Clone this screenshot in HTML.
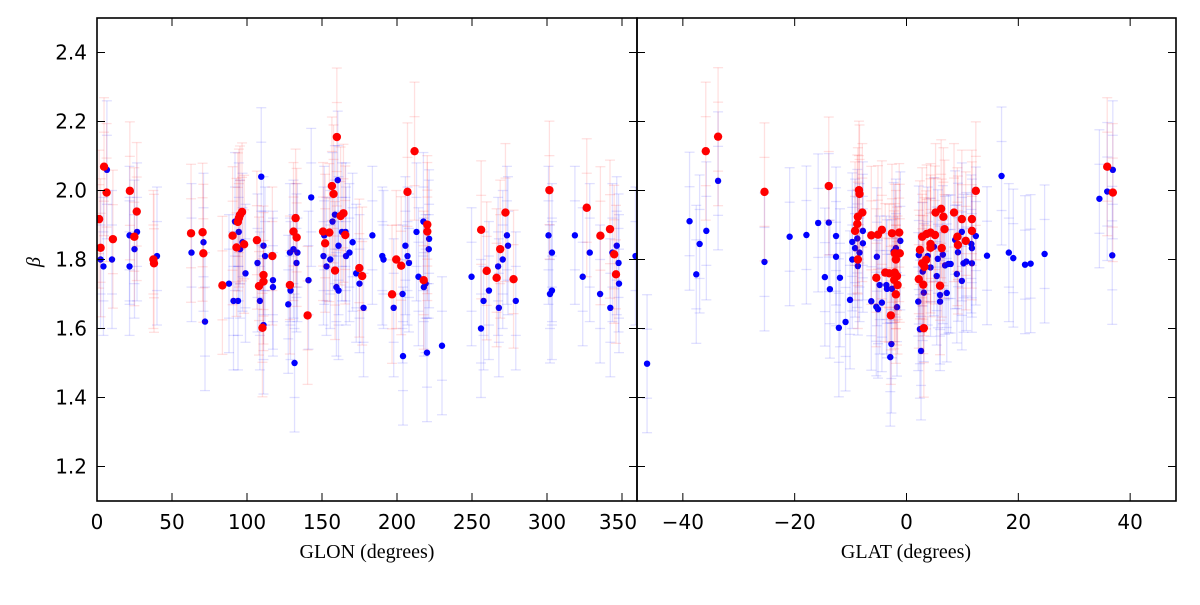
<!DOCTYPE html>
<html><head><meta charset="utf-8"><style>
body{margin:0;background:#fff;}
svg{display:block;}
.tl{font-family:"DejaVu Sans","Liberation Sans",sans-serif;font-size:20px;}
.al{font-family:"Liberation Serif","DejaVu Serif",serif;font-size:20px;}
</style></head><body>
<svg id="chart" width="1200" height="605" viewBox="0 0 1200 605" xmlns="http://www.w3.org/2000/svg"></svg>
<script>
const yTicks=[1.2,1.4,1.6,1.8,2.0,2.2,2.4];
const lonTicks=[0,50,100,150,200,250,300,350];
const latTicks=[-40,-20,0,20,40];
const errBlue=0.2, errRed=0.2;
const lonBlue=[[6.6,2.06],[2.4,1.80],[4.3,1.78],[10,1.80],[21.7,1.78],[21.7,1.87],[25,1.83],[26.7,1.88],[40,1.81],[63,1.82],[71,1.85],[72,1.62],[88,1.73],[91,1.68],[94,1.68],[92,1.91],[94.5,1.88],[97,1.85],[99,1.76],[95.4,1.83],[109.5,2.04],[107,1.79],[108.6,1.68],[111,1.84],[112,1.81],[117.3,1.74],[117.3,1.72],[111,1.61],[127.5,1.67],[129,1.71],[128.6,1.82],[131,1.83],[133.6,1.82],[133,1.79],[131.7,1.50],[141,1.74],[142.8,1.98],[151,1.81],[151.5,1.87],[153,1.78],[155.5,1.80],[157,1.91],[158.6,1.93],[160.5,2.03],[161,1.84],[163.3,1.88],[165.7,1.88],[166,1.81],[168.3,1.82],[170.4,1.85],[159.6,1.72],[161,1.71],[172.8,1.76],[175,1.73],[177.7,1.66],[183.6,1.87],[190.2,1.81],[191,1.80],[197.8,1.66],[204,1.52],[203.7,1.70],[205.6,1.84],[207,1.81],[208,1.79],[213,1.88],[214.3,1.75],[217.9,1.72],[219,1.73],[217.6,1.91],[221.4,1.86],[221.2,1.83],[220,1.53],[230,1.55],[249.7,1.75],[256,1.60],[257.7,1.68],[261.3,1.71],[267.9,1.66],[267.4,1.78],[270.5,1.80],[274,1.84],[273.3,1.87],[279.2,1.68],[301,1.87],[303.3,1.82],[302,1.70],[303.3,1.71],[318.6,1.87],[323.8,1.75],[328.5,1.82],[335.4,1.70],[342.2,1.66],[343.6,1.82],[346.5,1.84],[347.7,1.79],[348,1.73],[359,1.81]];
const lonRed=[[4.7,2.069],[6.4,1.994],[1.4,1.917],[2.4,1.834],[10.6,1.859],[21.9,1.999],[26.5,1.939],[24.9,1.866],[37.6,1.80],[38,1.789],[62.7,1.876],[70.4,1.879],[70.9,1.818],[83.6,1.725],[90.4,1.869],[93,1.835],[93.9,1.909],[94.6,1.92],[95.3,1.929],[96.7,1.938],[98.1,1.844],[106.6,1.856],[108,1.723],[111,1.755],[111,1.736],[110.3,1.602],[116.9,1.81],[128.6,1.726],[132.4,1.92],[131,1.881],[133.1,1.864],[140.4,1.638],[150.7,1.881],[154.9,1.878],[152.1,1.847],[156.6,2.013],[157.7,1.99],[159.9,2.155],[162.4,1.926],[164.3,1.934],[165.5,1.871],[158.7,1.768],[174.9,1.775],[176.8,1.752],[196.7,1.699],[199.5,1.80],[202.8,1.782],[207,1.996],[211.7,2.114],[220.2,1.901],[220.2,1.881],[217.8,1.74],[256.1,1.886],[259.8,1.767],[266.4,1.747],[268.8,1.83],[272.3,1.936],[277.7,1.743],[301.6,2.001],[326.5,1.95],[335.6,1.869],[342,1.888],[344.8,1.815],[346,1.757]];
const latBlue=[[-46.4,1.498],[-38.8,1.911],[-35.8,1.883],[-37,1.845],[-37.6,1.757],[-33.7,2.028],[-25.4,1.793],[-20.9,1.866],[-17.9,1.871],[-15.8,1.906],[-13.9,1.907],[-12.6,1.868],[-12.6,1.808],[-14.6,1.749],[-11.9,1.747],[-13.7,1.714],[-10.1,1.683],[-10.9,1.619],[-12.1,1.602],[-9.7,1.851],[-8.8,1.861],[-7.8,1.847],[-9.2,1.833],[-8.4,1.82],[-9.7,1.80],[-8.7,1.781],[-7.8,1.883],[-5.3,1.808],[-4.8,1.726],[-3.6,1.726],[-3.5,1.715],[-2.6,1.715],[-6.3,1.679],[-5.4,1.663],[-4.4,1.675],[-5.1,1.656],[-2.7,1.555],[-2.9,1.517],[-1.7,1.662],[-1.9,1.833],[-1.1,1.854],[-2.3,1.823],[2.2,1.813],[2.1,1.678],[2.6,1.535],[2.4,1.598],[3.1,1.704],[2.9,1.765],[3.8,1.81],[4.3,1.777],[4.9,1.837],[5.4,1.752],[6.0,1.697],[6.0,1.678],[5.6,1.802],[6.5,1.814],[6.9,1.783],[7.2,1.703],[7.5,1.787],[7.9,1.787],[8.7,1.857],[9.0,1.758],[9.2,1.821],[9.9,1.738],[9.9,1.88],[10.2,1.789],[10.7,1.794],[11.7,1.789],[11.7,1.833],[11.6,1.845],[12.4,1.868],[14.4,1.811],[17.0,2.042],[18.3,1.82],[19.1,1.804],[21.2,1.785],[22.2,1.788],[24.7,1.816],[34.5,1.976],[35.9,1.997],[36.9,2.06],[36.8,1.812]];
const latRed=[[-35.9,2.114],[-33.7,2.156],[-25.4,1.996],[-13.9,2.013],[-8.5,2.001],[-8.4,1.99],[-7.9,1.936],[-8.7,1.924],[-8.8,1.903],[-9.2,1.883],[-8.7,1.80],[-6.3,1.87],[-5.1,1.872],[-4.4,1.886],[-2.6,1.876],[-1.3,1.878],[-2.1,1.818],[-1.2,1.818],[-1.9,1.80],[-5.4,1.747],[-3.8,1.762],[-3.1,1.76],[-2.1,1.762],[-1.7,1.752],[-2.2,1.741],[-1.6,1.726],[-1.9,1.699],[-2.8,1.638],[2.4,1.828],[2.2,1.743],[3.0,1.727],[3.1,1.601],[2.8,1.789],[3.2,1.779],[3.5,1.799],[2.8,1.866],[3.6,1.874],[4.3,1.878],[5.1,1.871],[4.3,1.845],[4.3,1.834],[6.0,1.724],[6.3,1.833],[5.2,1.936],[6.2,1.947],[6.6,1.924],[6.8,1.888],[8.5,1.936],[9.1,1.866],[9.2,1.842],[9.9,1.917],[10.6,1.854],[11.7,1.917],[11.7,1.883],[12.4,1.999],[35.9,2.069],[36.9,1.994]];

const NS="http://www.w3.org/2000/svg";
const svg=document.getElementById('chart');
const T=18,B=501;
const yS=v=>T+(2.5-v)*(B-T)/1.4;
const P1={l:97,r:637,min:0,max:360};
const P2={l:637,r:1176,min:-48.2,max:48.2};
const xS=(p,v)=>p.l+(v-p.min)*(p.r-p.l)/(p.max-p.min);
function mk(tag,attrs,parent){const e=document.createElementNS(NS,tag);for(const k in attrs)e.setAttribute(k,attrs[k]);(parent||svg).appendChild(e);return e;}

function series(p,pts,err,col,r,name,g0){
  const g=mk('g',{},g0);
  
  
  const eg=mk('g',{stroke:col,'stroke-opacity':0.12,'stroke-width':1.3},g);
  pts.forEach(d=>{
    const x=xS(p,d[0]),y0=yS(d[1]-err),y1=yS(d[1]+err),ym=yS(d[1]);
    mk('line',{x1:x,x2:x,y1:y0,y2:y1},eg);
    mk('line',{x1:x-5,x2:x+5,y1:y0,y2:y0},eg);
    mk('line',{x1:x-5,x2:x+5,y1:y1,y2:y1},eg);
    mk('line',{x1:x-5,x2:x+5,y1:(y0+ym)/2,y2:(y0+ym)/2},eg);
    mk('line',{x1:x-5,x2:x+5,y1:(y1+ym)/2,y2:(y1+ym)/2},eg);
  });
  pts.forEach(d=>{
    const c=mk('circle',{cx:xS(p,d[0]),cy:yS(d[1]),r:r,fill:col},g);
    
    
  });
}
const clip=mk('defs',{});
const c1=mk('clipPath',{id:'c1'},clip);mk('rect',{x:97,y:18,width:540,height:483},c1);
const c2=mk('clipPath',{id:'c2'},clip);mk('rect',{x:637,y:18,width:539,height:483},c2);
const g1=mk('g',{'clip-path':'url(#c1)'});
const g2=mk('g',{'clip-path':'url(#c2)'});
series(P1,lonBlue,errBlue,'#0000ff',3.2,'glon-blue-series',g1);
series(P1,lonRed,errRed,'#ff0000',4.2,'glon-red-series',g1);
series(P2,latBlue,errBlue,'#0000ff',3.2,'glat-blue-series',g2);
series(P2,latRed,errRed,'#ff0000',4.2,'glat-red-series',g2);

[P1,P2].forEach((p,i)=>{
  const f=mk('rect',{x:p.l,y:T,width:p.r-p.l,height:B-T,fill:'none',stroke:'#000','stroke-width':1.6});
  
  
  yTicks.forEach(v=>{const y=yS(v);
    mk('line',{x1:p.l,x2:p.l+8,y1:y,y2:y,stroke:'#000','stroke-width':1});
    mk('line',{x1:p.r-8,x2:p.r,y1:y,y2:y,stroke:'#000','stroke-width':1});});
  const xt=i?latTicks:lonTicks;
  xt.forEach(v=>{const x=xS(p,v);
    mk('line',{x1:x,x2:x,y1:B-8,y2:B,stroke:'#000','stroke-width':1});
    mk('line',{x1:x,x2:x,y1:T,y2:T+8,stroke:'#000','stroke-width':1});
    const t=mk('text',{x:(!i&&v===350)?x-4:x,y:B+28,'text-anchor':'middle',class:'tl'});
    t.textContent=v<0?'\u2212'+Math.abs(v):String(v);
    
    
  });
});
yTicks.forEach(v=>{
  const t=mk('text',{x:87,y:yS(v)+7,'text-anchor':'end',class:'tl'});
  t.textContent=v.toFixed(1);
  
  
});
const yl=mk('text',{x:34,y:268,'text-anchor':'middle',class:'al','font-style':'italic','font-size':'21',transform:'rotate(-90 34 262)'});
yl.textContent='β';


const x1=mk('text',{x:367,y:558,'text-anchor':'middle',class:'al'});
x1.textContent='GLON (degrees)';


const x2=mk('text',{x:906,y:558,'text-anchor':'middle',class:'al'});
x2.textContent='GLAT (degrees)';


</script>
</body></html>
